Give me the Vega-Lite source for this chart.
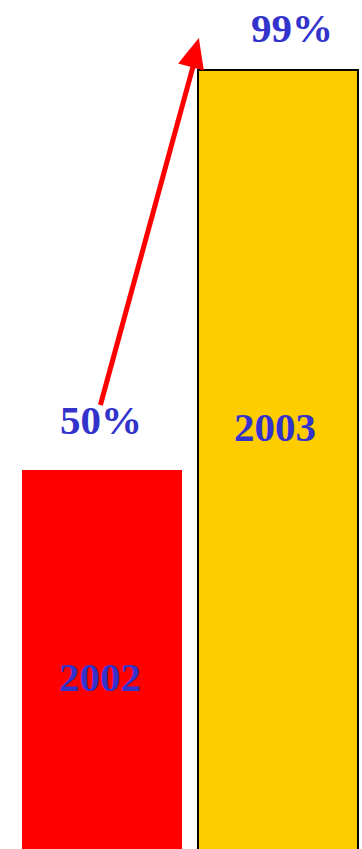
{
  "$schema": "https://vega.github.io/schema/vega-lite/v6.json",
  "width": 362,
  "height": 849,
  "autosize": "none",
  "padding": 0,
  "background": "white",
  "config": {"view": {"stroke": null}},
  "data": {
    "values": [
      {"year": "2002", "value": 50, "label": "50%"},
      {"year": "2003", "value": 99, "label": "99%"}
    ]
  },
  "encoding": {
    "x": {
      "field": "year",
      "type": "nominal",
      "axis": null,
      "scale": {"paddingInner": 0.0909, "paddingOuter": 0.0739, "align": 0.846}
    }
  },
  "layer": [
    {
      "mark": {"type": "bar", "stroke": "black", "strokeWidth": 2},
      "encoding": {
        "y": {"field": "value", "type": "quantitative", "axis": null,
              "scale": {"domain": [3.57, 107.58], "zero": false, "nice": false}},
        "color": {"field": "year", "type": "nominal", "legend": null,
                  "scale": {"domain": ["2002", "2003"], "range": ["#ff0000", "#ffcc00"]}},
        "strokeOpacity": {"field": "year", "type": "nominal", "legend": null,
                  "scale": {"domain": ["2002", "2003"], "range": [0, 1]}}
      }
    },
    {
      "transform": [{"filter": "datum.year == '2002'"}],
      "mark": {"type": "text", "font": "Liberation Serif", "fontWeight": "bold", "fontSize": 41,
               "color": "#3333cc", "baseline": "alphabetic", "align": "center", "dy": -36, "dx": -1},
      "encoding": {
        "y": {"field": "value", "type": "quantitative"},
        "text": {"field": "label"}
      }
    },
    {
      "transform": [{"filter": "datum.year == '2003'"}],
      "mark": {"type": "text", "font": "Liberation Serif", "fontWeight": "bold", "fontSize": 41,
               "color": "#3333cc", "baseline": "alphabetic", "align": "center", "dy": -28, "dx": 14},
      "encoding": {
        "y": {"field": "value", "type": "quantitative"},
        "text": {"field": "label"}
      }
    },
    {
      "transform": [{"filter": "datum.year == '2002'"}],
      "mark": {"type": "text", "font": "Liberation Serif", "fontWeight": "bold", "fontSize": 41,
               "color": "#3333cc", "baseline": "alphabetic", "align": "center", "dx": -2},
      "encoding": {
        "y": {"datum": 22.93, "type": "quantitative"},
        "text": {"field": "year"}
      }
    },
    {
      "transform": [{"filter": "datum.year == '2003'"}],
      "mark": {"type": "text", "font": "Liberation Serif", "fontWeight": "bold", "fontSize": 41,
               "color": "#3333cc", "baseline": "alphabetic", "align": "center", "dx": -3},
      "encoding": {
        "y": {"datum": 53.55, "type": "quantitative"},
        "text": {"field": "year"}
      }
    },
    {
      "transform": [{"filter": "datum.year == '2002'"}],
      "mark": {"type": "rule", "color": "#ff0000", "strokeWidth": 5, "strokeCap": "butt"},
      "encoding": {
        "x": {"field": "year", "type": "nominal", "bandPosition": 0.49},
        "x2": {"field": "year", "bandPosition": 1.07},
        "y": {"datum": 57.96, "type": "quantitative"},
        "y2": {"datum": 99.5}
      }
    },
    {
      "transform": [{"filter": "datum.year == '2002'"}],
      "mark": {"type": "point", "filled": true, "color": "#ff0000", "opacity": 1, "strokeWidth": 0,
               "shape": "M0,-1L0.8,0.8L-0.8,0.8Z", "size": 1111, "angle": 15.1},
      "encoding": {
        "x": {"field": "year", "type": "nominal", "bandPosition": 1.078},
        "y": {"datum": 100.95, "type": "quantitative"}
      }
    }
  ]
}
